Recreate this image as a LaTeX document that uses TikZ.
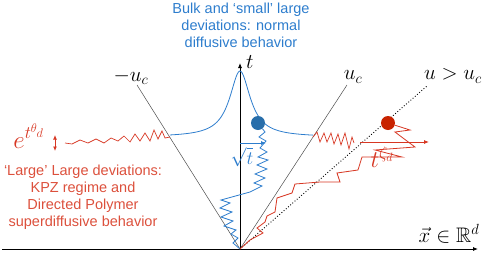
\RequirePackage{fix-cm}
\documentclass[tikz,border=0pt]{standalone}
\usepackage{amsmath, amsfonts, amssymb}
\usepackage{fontspec}
\setsansfont{Liberation Sans}
\usetikzlibrary{arrows.meta}

\definecolor{bulkblue}{RGB}{45,125,205}
\definecolor{dotblue}{RGB}{40,110,170}
\definecolor{kpzred}{RGB}{215,55,35}
\definecolor{textred}{RGB}{220,80,60}
\definecolor{dotred}{RGB}{200,35,0}

\begin{document}
\begin{tikzpicture}[x=1pt, y=-1pt,
    conus/.style={gray!60!black, line width=0.5pt},
    axis/.style={black, line width=0.8pt, -{Latex[length=5pt, width=4pt]}},
    mathlbl/.style={inner sep=0pt, font=\fontsize{21}{24}\selectfont},
    sanslbl/.style={align=center, inner sep=0pt, font=\sffamily\fontsize{14.5}{17}\selectfont}]
    % параметры
    \def\W{491}   % ширина
    \def\H{255}   % высота
    \def\w{12.5}  % полуширина пика
    \useasboundingbox (0,0) rectangle (\W,\H);

    % опорные точки
    \coordinate (O) at (240,249);
    \coordinate (xStart) at (2,249);
    \coordinate (xEnd) at (478,249);
    \coordinate (tEnd) at (240,63);
    \coordinate (mucEnd) at (137,85);
    \coordinate (ucEnd) at (347,85);
    \coordinate (uEnd) at (427,86);

    % оси
    \draw[axis] (xStart) -- (xEnd);
    \draw[axis] (O) -- (tEnd);
    \node[mathlbl, anchor=west] (tLbl) at (246,62) {$t$};
    \node[mathlbl] (xLbl) at (449,234) {$\vec{x}\in\mathbb{R}^d$};

    % конус
    \draw[conus] (O) -- (mucEnd);
    \draw[conus] (O) -- (ucEnd);
    \draw[black, line width=0.9pt, dotted] (O) -- (uEnd);
    \node[mathlbl] (mucLbl) at (131,77) {$-u_c$};
    \node[mathlbl] (ucLbl) at (353,77) {$u_c$};
    \node[mathlbl] (uLbl) at (453,76) {$u>u_c$};

    % профиль
    \draw[bulkblue, line width=0.8pt] plot[domain=170:313, samples=120]
        (\x, {137 - 66/(1+((\x-240)/\w)^2)});
    \node[sanslbl, text=bulkblue] (bulkLbl) at (241,25)
        {Bulk and ‘small’ large\\ deviations: normal\\ diffusive behavior};

    % хвосты
    \draw[kpzred, line width=0.7pt] (65,143) -- (72,144) -- (80,140) -- (88,143)
        -- (96,139) -- (104,143) -- (111,138) -- (118,141) -- (124,136)
        -- (130,142) -- (135,134) -- (140,141) -- (145,133) -- (150,141)
        -- (154,130) -- (158,139) -- (162,131) -- (165,138) -- (170,137);
    \draw[kpzred, line width=0.7pt] (313,137) -- (317,132) -- (320,142) -- (324,133)
        -- (327,142) -- (331,133) -- (334,144) -- (338,134) -- (341,145)
        -- (345,133) -- (349,149) -- (352,137) -- (354,143);
    \coordinate (dArrTop) at (55,135);
    \coordinate (dArrBot) at (55,151);
    \draw[kpzred, line width=0.9pt, {Latex[length=4.5pt,width=4pt]}-{Latex[length=4.5pt,width=4pt]}]
        (dArrTop) -- (dArrBot);
    \node[mathlbl, text=kpzred, font=\fontsize{25}{28}\selectfont] (eLbl) at (29,136) {$e^{t^{\theta_d}}$};
    \node[sanslbl, text=textred] (largeLbl) at (83,197)
        {‘Large’ Large deviations:\\ KPZ regime and\\ Directed Polymer\\ superdiffusive behavior};

    % частицы
    \node[circle, fill=dotblue, minimum size=14pt, inner sep=0pt] (blueDot) at (258,123) {};
    \node[circle, fill=dotred, minimum size=14pt, inner sep=0pt] (redDot) at (388,123) {};

    % диффузная траектория
    \draw[bulkblue, line width=0.8pt] (O) -- (233,243) -- (238,238) -- (231,234)
        -- (236,230) -- (224,226) -- (233,221) -- (221,217) -- (232,212)
        -- (220,208) -- (230,203) -- (221,200) -- (250,192) -- (262,186)
        -- (254,183) -- (265,178) -- (255,174) -- (267,169) -- (257,165)
        -- (268,160) -- (258,157) -- (267,152) -- (260,148) -- (266,141)
        -- (259,137) -- (265,132) -- (blueDot);
    \coordinate (sqStart) at (240,143);
    \coordinate (sqEnd) at (266,143);
    \draw[bulkblue, line width=0.8pt, -{Latex[length=5pt,width=4pt]}] (sqStart) -- (sqEnd);
    \node[mathlbl, text=bulkblue, font=\fontsize{19}{22}\selectfont] (sqLbl) at (242,157) {$\sqrt{t}$};

    % полимер
    \draw[kpzred, line width=0.8pt] (O) -- (250,240) -- (263,233) -- (257,228)
        -- (265,222) -- (267,216) -- (275,212) -- (277,198) -- (292,193)
        -- (295,184) -- (320,182) -- (340,182) -- (337,173) -- (358,170)
        -- (362,157) -- (402,157) -- (375,150) -- (415,147) -- (395,132)
        -- (410,130) -- (redDot);
    \coordinate (zStart) at (360,142);
    \coordinate (zEnd) at (429,142);
    \draw[kpzred, line width=0.8pt, -{Latex[length=5pt,width=4pt]}] (zStart) -- (zEnd);
    \node[mathlbl, text=kpzred, font=\fontsize{24}{26}\selectfont] (zLbl) at (382,157) {$t^{\zeta_d}$};
\end{tikzpicture}
\end{document}
